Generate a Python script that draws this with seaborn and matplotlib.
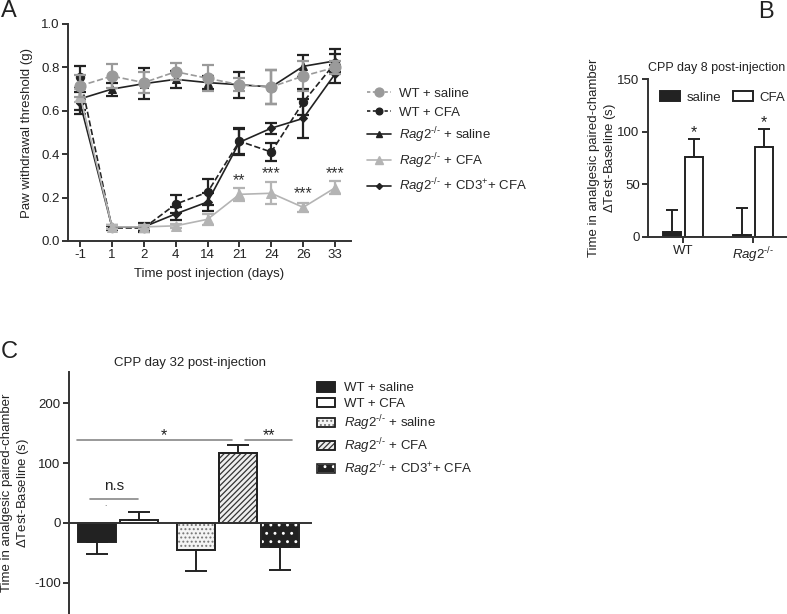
import numpy as np
import pandas as pd
import matplotlib
matplotlib.use("Agg")
import matplotlib.pyplot as plt
from matplotlib.patches import Patch, Rectangle
from matplotlib.lines import Line2D
from matplotlib.legend_handler import HandlerTuple
import seaborn as sns

sns.set_style("ticks")
plt.rcParams['font.family'] = ['Liberation Sans', 'DejaVu Sans']
plt.rcParams['mathtext.fontset'] = 'custom'
plt.rcParams['mathtext.rm'] = 'Liberation Sans'
plt.rcParams['mathtext.it'] = 'Liberation Sans:italic'
plt.rcParams['axes.unicode_minus'] = False
plt.rcParams['hatch.linewidth'] = 0.9

# ---- panel A: paw withdrawal threshold ----
days = ["-1", "1", "2", "4", "14", "21", "24", "26", "33"]
wt_saline = [0.715, 0.76, 0.73, 0.78, 0.75, 0.72, 0.71, 0.76, 0.80]
wt_saline_err = [0.05, 0.055, 0.05, 0.04, 0.06, 0.03, 0.08, 0.07, 0.03]
wt_cfa = [0.755, 0.06, 0.06, 0.17, 0.225, 0.46, 0.41, 0.64, 0.82]
wt_cfa_err = [0.05, 0.01, 0.02, 0.04, 0.06, 0.06, 0.04, 0.06, 0.04]
rag_saline = [0.655, 0.70, 0.725, 0.745, 0.73, 0.72, 0.71, 0.805, 0.83]
rag_saline_err = [0.05, 0.03, 0.07, 0.04, 0.03, 0.06, 0.08, 0.05, 0.055]
rag_cfa = [0.67, 0.065, 0.065, 0.07, 0.10, 0.215, 0.22, 0.155, 0.245]
rag_cfa_err = [0.03, 0.01, 0.01, 0.01, 0.025, 0.03, 0.05, 0.02, 0.03]
rag_cd3_cfa = [0.635, 0.065, 0.065, 0.125, 0.18, 0.455, 0.52, 0.565, 0.77]
rag_cd3_cfa_err = [0.05, 0.01, 0.02, 0.03, 0.04, 0.06, 0.025, 0.09, 0.04]
sig_days = ["21", "24", "26", "33"]
sig_labels = ["**", "***", "***", "***"]
sig_heights = [0.28, 0.31, 0.22, 0.31]

# ---- panel B: CPP day 8 ----
b_genotype = ["WT", "Rag2"]
b_saline = [5, 2]
b_saline_err = [21, 26]
b_cfa = [76, 85]
b_cfa_err = [17, 18]

# ---- panel C: CPP day 32 ----
c_groups = ["WT + saline", "WT + CFA", "Rag2 + saline", "Rag2 + CFA", "Rag2 + CD3 + CFA"]
c_values = [-31, 5, -45, 117, -40]
c_err = [20, 13, 36, 13, 38]
c_slots = [0, 1, 2.36, 3.36, 4.36]

DARK = "#222222"
GRAY = "#9a9a9a"
LIGHT = "#b4b4b4"
SPINE = "#333333"
FS = 9.5

W, H = 787, 614
fig = plt.figure(figsize=(W / 100, H / 100), dpi=100)


def px_axes(left, top, right, bottom):
    return fig.add_axes([left / W, 1 - bottom / H, (right - left) / W, (bottom - top) / H])


def style_axes(ax):
    for s in ["top", "right"]:
        ax.spines[s].set_visible(False)
    for s in ["left", "bottom"]:
        ax.spines[s].set_color(SPINE)
        ax.spines[s].set_linewidth(1.4)
    ax.tick_params(colors=SPINE, width=1.4, length=4, pad=2, labelsize=FS, labelcolor="#222")


rag = r"$\mathit{Rag2}^{\text{-/-}}$"
cd3 = r" + CD3$^{\text{+}}$+ CFA"

# ================= A =================
axA = px_axes(68, 24, 351, 241)
style_axes(axA)
xpos = np.arange(len(days))
series = [
    (wt_cfa, wt_cfa_err, DARK, "o", "--", 6, "WT + CFA", 3),
    (rag_saline, rag_saline_err, DARK, "^", "-", 5.5, rag + " + saline", 3),
    (rag_cd3_cfa, rag_cd3_cfa_err, DARK, "D", "-", 3.8, rag + cd3, 3),
    (rag_cfa, rag_cfa_err, LIGHT, "^", "-", 7.5, rag + " + CFA", 4),
    (wt_saline, wt_saline_err, GRAY, "o", "--", 8, "WT + saline", 5),
]
handles = {}
for vals, err, col, mk, ls, ms, lab, z in series:
    sns.lineplot(x=xpos, y=vals, ax=axA, color=col, marker=mk, markersize=ms,
                 markeredgecolor=col, linestyle=ls, linewidth=1.2, errorbar=None,
                 zorder=z, dashes=False if ls == "-" else (2.5, 1.5))
    axA.errorbar(xpos, vals, yerr=err, fmt="none", ecolor=col, elinewidth=1.6,
                 capsize=4, capthick=1.6, zorder=z)
    handles[lab] = Line2D([], [], color=col, marker=mk, markersize=ms * 0.8,
                          linestyle=ls if ls == "-" else (0, (2, 1.5)), linewidth=1.2)
if axA.get_legend():
    axA.get_legend().remove()
axA.set_xlim(-0.38, 8.5)
axA.set_ylim(0, 1.0)
axA.set_yticks(np.arange(0, 1.01, 0.2))
axA.set_yticklabels([f"{v:.1f}" for v in np.arange(0, 1.01, 0.2)])
axA.set_xticks(xpos)
axA.set_xticklabels(days)
axA.set_xlabel("Time post injection (days)", fontsize=FS, color="#222", labelpad=5)
axA.set_ylabel("Paw withdrawal threshold (g)", fontsize=FS, color="#222", labelpad=6)
for d, lab, h in zip(sig_days, sig_labels, sig_heights):
    axA.text(days.index(d), h, lab, ha="center", va="center", fontsize=FS + 2, color="#333")

orderA = ["WT + saline", "WT + CFA", rag + " + saline", rag + " + CFA", rag + cd3]
fig.legend([handles[k] for k in orderA], orderA, loc="upper left",
           bbox_to_anchor=(355 / W, 1 - 76 / H), frameon=False, fontsize=FS,
           handlelength=1.8, labelspacing=0.48, handletextpad=0.6)

# ================= B =================
axB = px_axes(648, 79, 788, 237)
style_axes(axB)
dfB = pd.DataFrame({
    "genotype": b_genotype * 2,
    "treatment": ["saline"] * 2 + ["CFA"] * 2,
    "value": b_saline + b_cfa,
})
sns.barplot(data=dfB, x="genotype", y="value", hue="treatment", ax=axB,
            palette={"saline": DARK, "CFA": "white"}, edgecolor=DARK, linewidth=1.4,
            width=0.63, gap=0.15, errorbar=None)
for cont, err in zip(axB.containers, [b_saline_err, b_cfa_err]):
    for p, e in zip(cont.patches, err):
        cx = p.get_x() + p.get_width() / 2
        top = p.get_height()
        axB.errorbar([cx], [top], yerr=[[0], [e]], fmt="none", ecolor=DARK,
                     elinewidth=1.4, capsize=4, capthick=1.4)
for p, e in zip(axB.containers[1].patches, b_cfa_err):
    cx = p.get_x() + p.get_width() / 2
    axB.text(cx, p.get_height() + e + 6, "*", ha="center", va="center", fontsize=FS + 2, color="#222")
axB.set_xlim(-0.5, 1.5)
axB.set_ylim(0, 150)
axB.set_yticks([0, 50, 100, 150])
axB.set_xticks([0, 1])
axB.set_xticklabels(["WT", rag])
axB.set_xlabel("")
axB.set_ylabel("Time in analgesic paired-chamber\n" + r"$\Delta$Test-Baseline (s)",
               fontsize=FS, color="#222")
axB.yaxis.set_label_coords(-0.215, 0.5)
axB.legend(loc="upper left", bbox_to_anchor=(0.0, 1.0), ncol=2, frameon=False,
           fontsize=FS, handlelength=1.5, handleheight=0.8, columnspacing=0.9,
           handletextpad=0.5)
axB.set_title("CPP day 8 post-injection", fontsize=9, color="#222", loc="left", pad=6)

# ================= C =================
axC = px_axes(69, 372, 311, 614)
style_axes(axC)
sns.barplot(x=c_slots, y=c_values, ax=axC, native_scale=True, width=0.9,
            color="white", edgecolor=DARK, linewidth=1.4, errorbar=None)
faces = [DARK, "white", "#f4f4f4", "#eeeeee", DARK]
hatch_cols = [DARK, DARK, "#777777", "#333333", "white"]
hatches = [None, None, "....", "//////", ".."]
bars = list(axC.containers[0].patches)
for p, fc, hc, ht in zip(bars, faces, hatch_cols, hatches):
    p.set_facecolor(fc)
    if ht:
        p.set_hatch(ht)
        p.set_edgecolor(hc)
        axC.add_patch(Rectangle(p.get_xy(), p.get_width(), p.get_height(), fill=False,
                                edgecolor=DARK, linewidth=1.4, zorder=p.get_zorder() + 0.1))
for p, v, e in zip(bars, c_values, c_err):
    cx = p.get_x() + p.get_width() / 2
    yerr = [[0], [e]] if v >= 0 else [[e], [0]]
    axC.errorbar([cx], [v], yerr=yerr, fmt="none", ecolor=DARK, elinewidth=1.4,
                 capsize=8, capthick=1.4)
axC.set_xlim(-0.667, 5.1)
axC.set_ylim(-152, 252)
axC.spines["bottom"].set_position(("data", 0))
axC.set_xticks([])
axC.set_yticks([-100, 0, 100, 200])
axC.set_ylabel("Time in analgesic paired-chamber\n" + r"$\Delta$Test-Baseline (s)",
               fontsize=FS, color="#222")
axC.yaxis.set_label_coords(-0.155, 0.5)
axC.set_title("CPP day 32 post-injection", fontsize=FS, color="#222", pad=4)

line_col = "#888888"
axC.plot([c_slots[0] - 0.17, c_slots[1] - 0.02], [40, 40], color=line_col, lw=1.2)
axC.text((c_slots[0] + c_slots[1]) / 2 - 0.1, 50, "n.s", ha="center", va="bottom", fontsize=FS + 1.5, color="#222")
axC.text(c_slots[0] + 0.19, 30, ".", ha="center", va="center", fontsize=6, color="#444")
axC.plot([c_slots[0] - 0.48, c_slots[3] - 0.14], [138, 138], color=line_col, lw=1.2)
axC.text(1.6, 146, "*", ha="center", va="center", fontsize=FS + 2, color="#222")
axC.plot([c_slots[3] + 0.17, c_slots[4] + 0.29], [138, 138], color=line_col, lw=1.2)
axC.text(c_slots[4] - 0.25, 146, "**", ha="center", va="center", fontsize=FS + 2, color="#222")

legC_labels = ["WT + saline", "WT + CFA", rag + " + saline", rag + " + CFA", rag + cd3]
legC_handles = []
for fc, hc, ht in zip(faces, hatch_cols, hatches):
    base = Patch(facecolor=fc, edgecolor=hc if ht else DARK, hatch=ht, linewidth=1.2)
    outline = Patch(facecolor="none", edgecolor=DARK, linewidth=1.2)
    legC_handles.append((base, outline))
fig.legend(legC_handles, legC_labels, loc="upper left", bbox_to_anchor=(305 / W, 1 - 370 / H),
           frameon=False, fontsize=FS, handlelength=1.35, handleheight=0.75,
           labelspacing=0.25, handletextpad=0.7,
           handler_map={tuple: HandlerTuple(ndivide=1, pad=0)})

# panel letters
fig.text(1 / W, 1 - 11 / H, "A", fontsize=17, va="center", ha="left", color="#222")
fig.text(758 / W, 1 - 12 / H, "B", fontsize=17, va="center", ha="left", color="#222")
fig.text(1 / W, 1 - 352 / H, "C", fontsize=17, va="center", ha="left", color="#222")

fig.savefig("out.png", dpi=100)
